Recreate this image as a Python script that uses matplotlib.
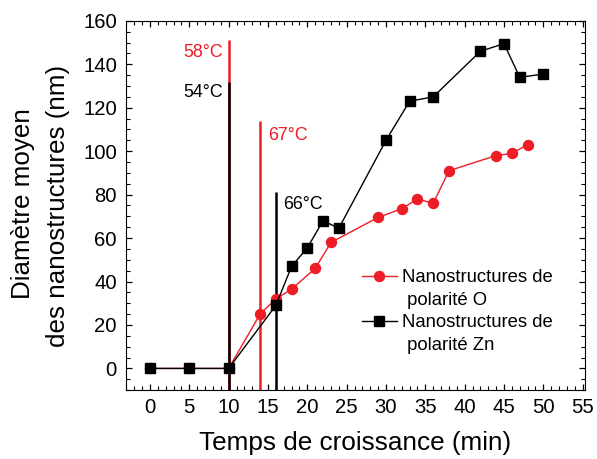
import matplotlib
matplotlib.use("Agg")
import matplotlib.pyplot as plt
from matplotlib.ticker import MultipleLocator
from matplotlib.lines import Line2D

plt.rcParams['font.family'] = ['Liberation Sans', 'DejaVu Sans']

RED = '#ee1c25'

# polarité O
t_o = [0, 5, 10, 14, 16, 18, 21, 23, 29, 32, 34, 36, 38, 44, 46, 48]
d_o = [0, 0, 0, 25, 32, 36.5, 46, 58, 69.5, 73.5, 78, 76, 91, 98, 99, 103]

# polarité Zn
t_zn = [0, 5, 10, 16, 18, 20, 22, 24, 30, 33, 36, 42, 45, 47, 50]
d_zn = [0, 0, 0, 29, 47, 55.5, 68, 64.5, 105, 123, 125, 146, 149.5, 134, 135.5]

# repères de température : (temps, hauteur, texte)
temp_o = [(10, 151, "58°C"), (14, 114, "67°C")]
temp_zn = [(10, 132, "54°C"), (16, 81, "66°C")]


def main() -> None:
	fig = plt.figure(figsize=(5.97, 4.59), dpi=100)
	ax = fig.add_axes([0.211, 0.150, 0.769, 0.8046])

	ymin = -10
	for t, h, _ in temp_o:
		ax.vlines(t, ymin, h, color=RED, lw=1.8, zorder=2)
	for t, h, _ in temp_zn:
		ax.vlines(t, ymin, h, color='black', lw=1.8, zorder=2.5)

	ax.plot(t_o, d_o, color=RED, marker='o', ms=7.2, lw=1.0, zorder=3)
	ax.plot(t_zn, d_zn, color='black', marker='s', ms=6.6, lw=1.0, zorder=4)

	fs_t = 12.8
	ax.text(9.24, 145.3, temp_o[0][2], color=RED, fontsize=fs_t, ha='right', va='center')
	ax.text(9.24, 127, temp_zn[0][2], color='black', fontsize=fs_t, ha='right', va='center')
	ax.text(15.0, 107, temp_o[1][2], color=RED, fontsize=fs_t, ha='left', va='center')
	ax.text(16.9, 75.3, temp_zn[1][2], color='black', fontsize=fs_t, ha='left', va='center')

	ax.set_xlim(-3.05, 55.3)
	ax.set_ylim(ymin, 160)
	ax.xaxis.set_major_locator(MultipleLocator(5))
	ax.xaxis.set_minor_locator(MultipleLocator(1))
	ax.yaxis.set_major_locator(MultipleLocator(20))
	ax.yaxis.set_minor_locator(MultipleLocator(5))
	ax.tick_params(which='both', direction='in', top=True, right=True, labelsize=14.6)
	ax.tick_params(which='major', length=4.5, width=0.9)
	ax.tick_params(which='minor', length=2.6, width=0.8)
	ax.tick_params(axis='x', which='major', pad=5.5)
	ax.tick_params(axis='y', which='major', pad=6.5)

	ax.set_xlabel("Temps de croissance (min)", fontsize=18.8, labelpad=10)
	fig.text(23 / 597, 1 - 204 / 459, "Diamètre moyen", rotation=90, fontsize=18.7,
			 ha='center', va='center')
	fig.text(58 / 597, 1 - 205.5 / 459, "des nanostructures (nm)", rotation=90, fontsize=18.7,
			 ha='center', va='center')

	blank = Line2D([], [], linestyle='none')
	h_o = Line2D([], [], color=RED, marker='o', ms=7.2, lw=1.0)
	h_zn = Line2D([], [], color='black', marker='s', ms=6.6, lw=1.0)
	ax.legend([h_o, blank, h_zn, blank],
			  ["Nanostructures de", " polarité O", "Nanostructures de", " polarité Zn"],
			  loc='upper left', bbox_to_anchor=(0.5135, 0.328), frameon=False, fontsize=13.3,
			  handlelength=1.9, handletextpad=0.27, labelspacing=0.3, borderpad=0,
			  borderaxespad=0)

	fig.savefig("out.png", dpi=100)


if __name__ == "__main__":
	main()
